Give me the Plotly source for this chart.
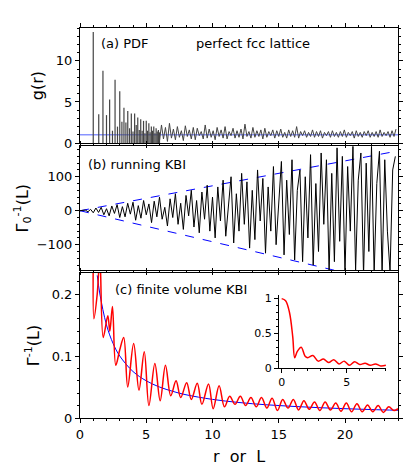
import numpy as np
import plotly.graph_objects as go

# (a) PDF of perfect fcc lattice: shell index n (r^2 in units of nn distance) and peak heights
shell_n = list(range(1, 37))
shell_g = [13.5, 3.5, 8.8, 3.4, 5.3, 1.5, 7.7, 2.0, 6.3, 2.6, 4.3, 2.5, 3.9, 1.8, 3.6, 1.4, 3.6, 2.2,
           3.1, 1.6, 2.9, 1.5, 2.7, 1.2, 2.7, 1.5, 2.4, 1.3, 2.0, 1.5, 2.0, 1.2, 1.8, 1.4, 1.6, 1.3]
tail_r0, tail_dr = 6.0, 0.15
tail_g = [0.3, 2.2, 0.5, 1.9, 0.2, 2.4, 0.6, 1.7, 0.4, 2.0, 0.7, 1.5, 0.3, 2.1, 0.8, 1.6, 0.5, 1.9,
          0.4, 1.8, 0.9, 1.4, 0.5, 2.2, 0.6, 1.7, 0.7, 1.5, 0.4, 1.9, 0.8, 1.6, 0.6, 2.0, 0.5, 1.4,
          0.9, 1.8, 0.6, 1.5, 0.7, 1.7, 0.5, 2.3, 0.8, 1.4, 0.6, 1.9, 0.7, 1.5, 0.8, 1.6, 0.5, 1.8,
          0.7, 1.4, 0.9, 1.6, 0.6, 1.5, 0.8, 1.7, 0.7, 1.3, 0.6, 1.6, 0.8, 1.5, 0.7, 2.0, 0.6, 1.4,
          0.9, 1.5, 0.7, 1.3, 0.8, 1.6, 0.7, 1.4, 0.8, 1.5, 0.6, 1.3, 0.9, 1.4, 0.7, 1.5, 0.8, 1.3,
          0.7, 1.4, 0.8, 1.6, 0.7, 1.3, 0.9, 1.4, 0.6, 1.5, 0.8, 1.3, 0.7, 1.4, 0.9, 1.5, 0.7, 1.3,
          0.8, 1.4, 0.7, 1.6, 0.8, 1.3, 0.9, 1.4, 0.7, 1.5, 0.8, 1.7]

# (b) running KBI
kbi_dr = 0.2
kbi_vals = [0, 0, 2, -3, 4, -6, 8, -5, 10, -12, 6, -15, 14, -8, 18, -20, 12, -18, 22, -10,
            25, -28, 15, -22, 30, -12, 20, -35, 28, -18, 40, -25, 10, -45, 35, -20, 50, -40, 22, -55,
            45, -15, 60, -48, 30, -65, 55, -25, 75, -60, 40, -80, 70, -30, 90, -75, 20, 100, -95, 50,
            -60, 110, -40, 85, -110, 60, -85, 120, -30, 95, -125, 70, -60, 130, -100, 40, 145, -130, 90, -70,
            150, -145, 60, 120, -150, 100, -80, 165, -160, 80, -120, 170, -40, 150, -180, 110, -150, 185, -90, 160,
            -185, 130, -60, 190, -175, 90, 170, -190, 140, -120, 190, -185, 80, 175, -190, 150, -60, -180, 120, 160]
env_r = [0, 24]
env_up = [0, 176]
env_lo = [0, -219]

# (c) finite volume KBI
red_L = [1.0, 1.05, 1.3, 1.5, 1.75, 2.1, 2.25, 2.45, 2.7, 3.0,
         3.3, 3.6, 4.05, 4.45, 4.85, 5.2, 5.65, 6.05, 6.45, 6.85, 7.25, 7.6, 8.05, 8.4, 8.85, 9.2,
         9.7, 10.05, 10.5, 10.9, 11.3, 11.7, 12.1, 12.5, 12.9, 13.3, 13.7, 14.1, 14.5, 14.9, 15.3, 15.7,
         16.1, 16.5, 16.9, 17.3, 17.7, 18.1, 18.5, 18.9, 19.3, 19.7, 20.1, 20.5, 20.9, 21.3, 21.7, 22.1,
         22.5, 22.9, 23.3, 23.7, 24.0]
red_G = [0.26, 0.16, 0.2, 0.26, 0.13, 0.165, 0.14, 0.18, 0.085, 0.11,
         0.13, 0.05, 0.12, 0.045, 0.107, 0.02, 0.088, 0.028, 0.085, 0.036, 0.06, 0.033, 0.057, 0.03, 0.056, 0.022,
         0.055, 0.015, 0.052, 0.018, 0.035, 0.022, 0.035, 0.02, 0.033, 0.018, 0.033, 0.016, 0.032, 0.012, 0.03, 0.016,
         0.03, 0.013, 0.028, 0.014, 0.026, 0.012, 0.026, 0.013, 0.024, 0.011, 0.024, 0.01, 0.023, 0.01, 0.021, 0.01,
         0.02, 0.009, 0.018, 0.012, 0.015]
blue_L = [1.3, 1.5, 2, 2.5, 3, 4, 5, 6, 7, 8, 10, 12, 14, 16, 18, 20, 22, 24]
blue_G = [0.23, 0.2, 0.15, 0.12, 0.1, 0.075, 0.06, 0.05, 0.043, 0.0375, 0.03, 0.025, 0.0214,
          0.0188, 0.0167, 0.015, 0.0136, 0.0125]
inset_L = [0, 0.3, 0.6, 0.85, 1.0, 1.2, 1.5, 1.8, 2.0, 2.4, 2.8, 3.2, 3.6, 4.0, 4.4, 4.8, 5.2, 5.6,
           6.0, 6.4, 6.8, 7.2, 7.6, 8.0]
inset_G = [1.0, 0.97, 0.8, 0.45, 0.15, 0.24, 0.3, 0.17, 0.15, 0.18, 0.1, 0.13, 0.08, 0.12, 0.06, 0.1,
           0.04, 0.09, 0.05, 0.07, 0.04, 0.06, 0.03, 0.04]

# build spike trace for (a)
sx, sy = [], []
for n, g in zip(shell_n, shell_g):
    r = np.sqrt(n)
    sx += [r, r, None]
    sy += [0, g, None]
tail_x = [tail_r0 + i * tail_dr for i in range(len(tail_g))]
kbi_x = [i * kbi_dr for i in range(len(kbi_vals))]

fig = go.Figure()
fig.add_trace(go.Scatter(x=[0, 24], y=[1, 1], mode="lines", line=dict(color="#5060ff", width=1), xaxis="x", yaxis="y"))
fig.add_trace(go.Scatter(x=sx, y=sy, mode="lines", line=dict(color="#444", width=1.2), xaxis="x", yaxis="y"))
fig.add_trace(go.Scatter(x=tail_x, y=tail_g, mode="lines", line=dict(color="#444", width=1), xaxis="x", yaxis="y"))

fig.add_trace(go.Scatter(x=env_r, y=env_up, mode="lines", line=dict(color="blue", width=1, dash="dash"), xaxis="x2", yaxis="y2"))
fig.add_trace(go.Scatter(x=env_r, y=env_lo, mode="lines", line=dict(color="blue", width=1, dash="dash"), xaxis="x2", yaxis="y2"))
fig.add_trace(go.Scatter(x=kbi_x, y=kbi_vals, mode="lines", line=dict(color="black", width=1), xaxis="x2", yaxis="y2"))

fig.add_trace(go.Scatter(x=blue_L, y=blue_G, mode="lines", line=dict(color="blue", width=1, shape="spline"), xaxis="x3", yaxis="y3"))
fig.add_trace(go.Scatter(x=red_L, y=red_G, mode="lines", line=dict(color="red", width=1.5, shape="spline"), xaxis="x3", yaxis="y3"))
fig.add_trace(go.Scatter(x=inset_L, y=inset_G, mode="lines", line=dict(color="red", width=1.5, shape="spline"), xaxis="x4", yaxis="y4"))

ax = dict(showline=True, linecolor="black", mirror="ticks", ticks="outside", ticklen=4,
          tickcolor="black", showgrid=False, zeroline=False,
          minor=dict(ticks="outside", ticklen=2, tickcolor="black"))
fig.update_layout(
    width=415, height=467, showlegend=False, plot_bgcolor="white", paper_bgcolor="white",
    margin=dict(l=72, r=25, t=20, b=57),
    font=dict(family="DejaVu Sans", size=13, color="black"),
    xaxis=dict(ax, domain=[0, 1], range=[0, 24], dtick=5, showticklabels=False, anchor="y"),
    yaxis=dict(ax, domain=[0.705, 1], range=[0, 14], dtick=5, title=dict(text="g(r)", standoff=8)),
    xaxis2=dict(ax, domain=[0, 1], range=[0, 24], dtick=5, showticklabels=False, anchor="y2"),
    yaxis2=dict(ax, domain=[0.379, 0.697], range=[-175, 190], dtick=100, anchor="x2",
                title=dict(text="Γ<sub>0</sub><sup>-1</sup>(L)", standoff=4)),
    xaxis3=dict(ax, domain=[0, 1], range=[0, 24], dtick=5, anchor="y3",
                title=dict(text="r  or  L", standoff=10)),
    yaxis3=dict(ax, domain=[0, 0.372], range=[0, 0.234], dtick=0.1, anchor="x3",
                title=dict(text="Γ<sup>-1</sup>(L)", standoff=8)),
    xaxis4=dict(ax, domain=[0.626, 0.962], range=[-0.2, 8], dtick=5, anchor="y4", mirror=False,
                tickfont=dict(size=11)),
    yaxis4=dict(ax, domain=[0.128, 0.315], range=[0, 1.05], dtick=0.5, anchor="x4", mirror=False,
                tickfont=dict(size=11)),
    annotations=[
        dict(text="(a) PDF", x=0.06, y=0.985, xref="paper", yref="paper", showarrow=False, xanchor="left", yanchor="top"),
        dict(text="perfect fcc lattice", x=0.36, y=0.985, xref="paper", yref="paper", showarrow=False, xanchor="left", yanchor="top"),
        dict(text="(b) running KBI", x=0.02, y=0.675, xref="paper", yref="paper", showarrow=False, xanchor="left", yanchor="top"),
        dict(text="(c) finite volume KBI", x=0.105, y=0.355, xref="paper", yref="paper", showarrow=False, xanchor="left", yanchor="top"),
    ],
)
fig.write_html("out.html")
